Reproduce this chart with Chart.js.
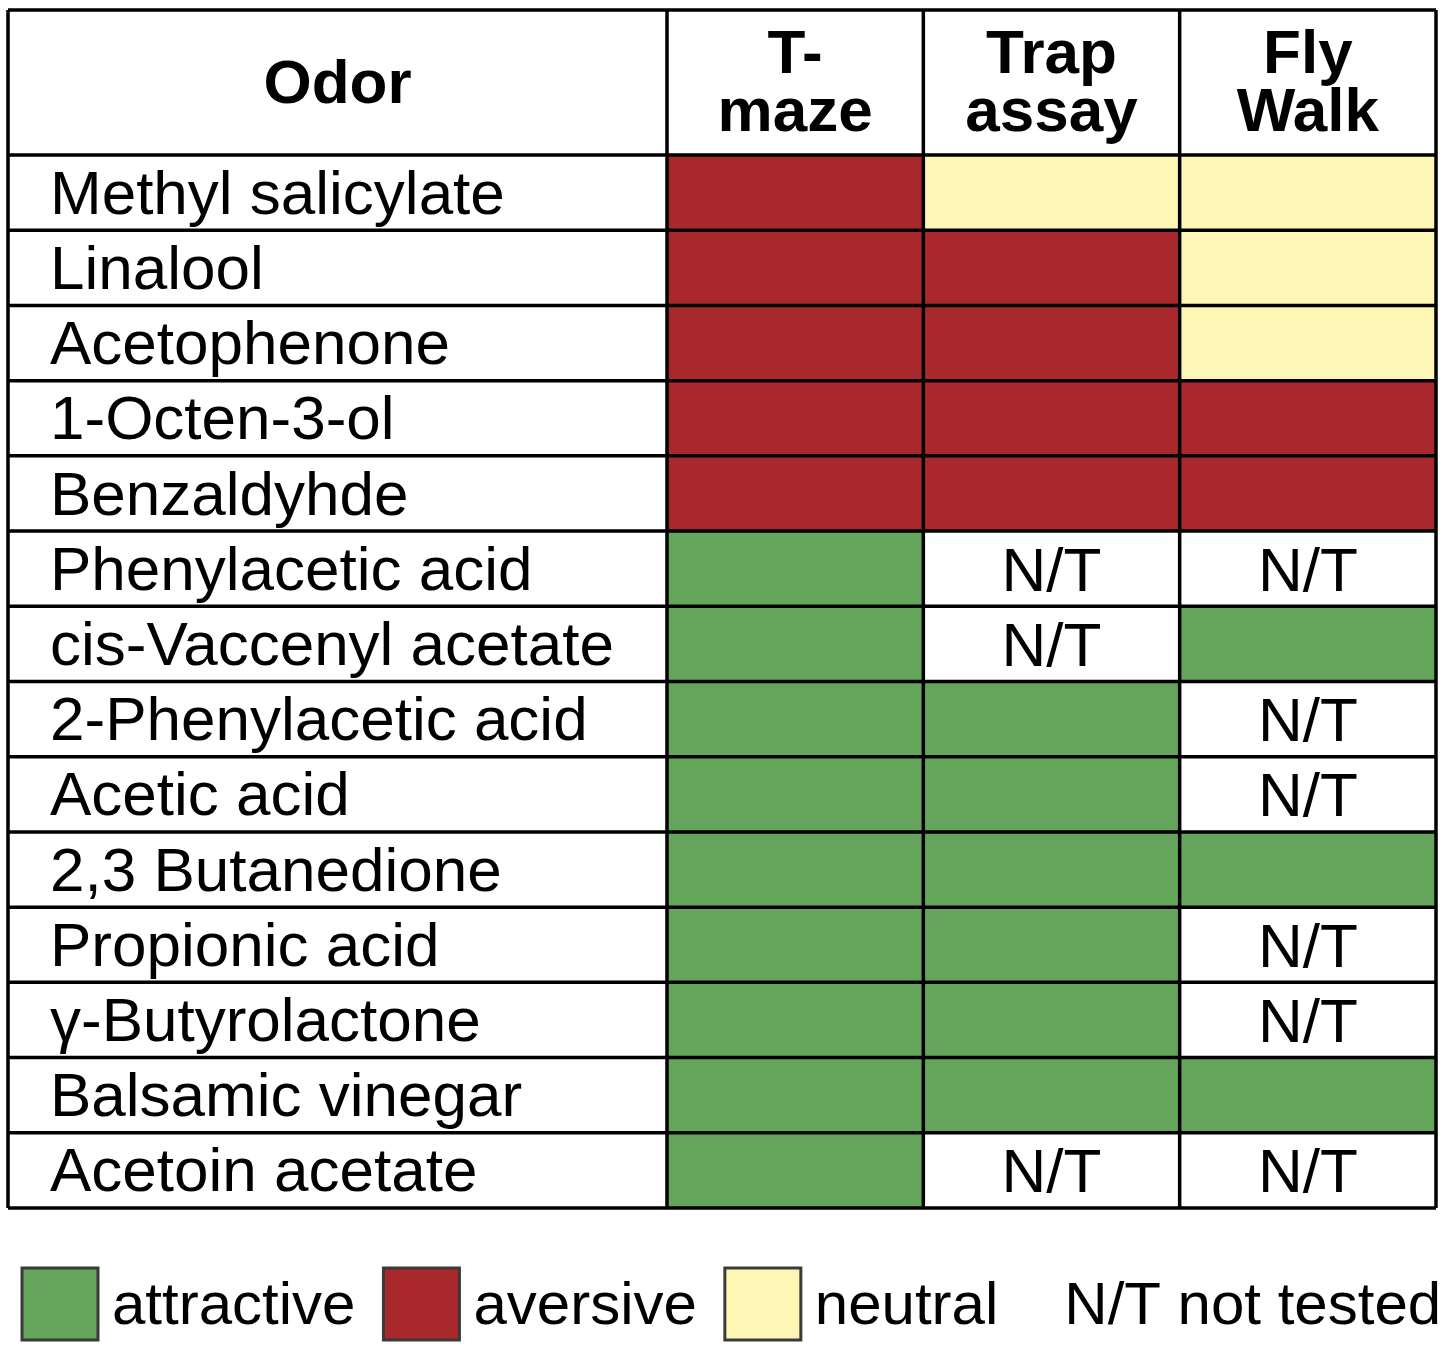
<!DOCTYPE html>
<html>
<head>
<meta charset="utf-8">
<script src="https://cdn.jsdelivr.net/npm/chart.js@4/dist/chart.umd.min.js"></script>
<style>
  html, body { margin: 0; padding: 0; background: #fff; }
  #wrap { width: 1445px; height: 1349px; }
</style>
</head>
<body>
<div id="wrap"><canvas id="myChart" width="1445" height="1349"></canvas></div>
<script>
//Rows of the table
const odors = [
  "Methyl salicylate", "Linalool", "Acetophenone", "1-Octen-3-ol", "Benzaldyhde",
  "Phenylacetic acid", "cis-Vaccenyl acetate", "2-Phenylacetic acid", "Acetic acid",
  "2,3 Butanedione", "Propionic acid", "γ-Butyrolactone", "Balsamic vinegar", "Acetoin acetate"
];
//Columns (header text split in two lines like the picture)
const assays = ["T-maze", "Trap assay", "Fly Walk"];
const assayHeaders = [["T-", "maze"], ["Trap", "assay"], ["Fly", "Walk"]];
//Result of each odor per assay, "N/T" = not tested
const tMaze = [
  "aversive", "aversive", "aversive", "aversive", "aversive",
  "attractive", "attractive", "attractive", "attractive",
  "attractive", "attractive", "attractive", "attractive", "attractive"
];
const trapAssay = [
  "neutral", "aversive", "aversive", "aversive", "aversive",
  "N/T", "N/T", "attractive", "attractive",
  "attractive", "attractive", "attractive", "attractive", "N/T"
];
const flyWalk = [
  "neutral", "neutral", "neutral", "aversive", "aversive",
  "N/T", "attractive", "N/T", "N/T",
  "attractive", "N/T", "N/T", "attractive", "N/T"
];
const legendLabels = ["attractive", "aversive", "neutral"];
const notTestedNote = "N/T not tested";

const responseColors = {
  attractive: "#64a45b",
  aversive: "#a9282b",
  neutral: "#fef6b4"
};
const FONT = "'Liberation Sans', Arial, sans-serif";

//one floating bar per tested cell, column i goes from i to i+1
function makeDataset(results, col) {
  return {
    label: assays[col],
    data: results.map(r => (r == "N/T" ? null : [col, col + 1])),
    backgroundColor: results.map(r => responseColors[r] || "#fff"),
    results: results,
    borderWidth: 0,
    barPercentage: 1,
    categoryPercentage: 1,
    grouped: false
  };
}

//Draws the table lines, "Odor" header, N/T cells and the legend
const tablePlugin = {
  id: "tablePlugin",
  afterDatasetsDraw(chart) {
    const ctx = chart.ctx;
    const x = chart.scales.x, y = chart.scales.y;
    const area = chart.chartArea;
    const tableLeft = y.left - 42; // labels sit a bit in from the border
    const tableTop = chart.scales.xHead.top;
    const half = (area.bottom - area.top) / odors.length / 2;

    //N/T text
    ctx.save();
    ctx.fillStyle = "#000";
    ctx.font = "62px " + FONT;
    ctx.textAlign = "center";
    ctx.textBaseline = "middle";
    chart.data.datasets.forEach((ds, col) => {
      ds.results.forEach((r, i) => {
        if (r == "N/T") {
          const cx = (x.getPixelForValue(col) + x.getPixelForValue(col + 1)) / 2;
          ctx.fillText("N/T", cx, y.getPixelForValue(i) + 5);
        }
      });
    });

    //Odor header
    ctx.font = "bold 62px " + FONT;
    ctx.fillText("Odor", (tableLeft + area.left) / 2, (tableTop + area.top) / 2 + 3);

    //lines
    ctx.strokeStyle = "#000";
    ctx.lineWidth = 3.5;
    ctx.beginPath();
    let rowLines = [tableTop];
    for (let i = 0; i < odors.length; i++) rowLines.push(y.getPixelForValue(i) - half);
    rowLines.push(area.bottom);
    rowLines.forEach(py => {
      ctx.moveTo(tableLeft, py);
      ctx.lineTo(area.right, py);
    });
    let colLines = [tableLeft];
    for (let c = 0; c <= assays.length; c++) colLines.push(x.getPixelForValue(c));
    colLines.forEach(px => {
      ctx.moveTo(px, tableTop);
      ctx.lineTo(px, area.bottom);
    });
    ctx.stroke();

    //legend
    const boxTop = area.bottom + 60, boxW = 76, boxH = 72;
    ctx.font = "60px " + FONT;
    ctx.textAlign = "left";
    let lx = tableLeft + 14;
    legendLabels.forEach(lab => {
      ctx.fillStyle = responseColors[lab];
      ctx.fillRect(lx, boxTop, boxW, boxH);
      ctx.strokeStyle = "#3a3a3a";
      ctx.lineWidth = 3;
      ctx.strokeRect(lx, boxTop, boxW, boxH);
      ctx.fillStyle = "#000";
      ctx.fillText(lab, lx + boxW + 14, boxTop + boxH / 2 + 3);
      lx += boxW + 14 + ctx.measureText(lab).width + 28;
    });
    ctx.fillText(notTestedNote, lx + 38, boxTop + boxH / 2 + 3);
    ctx.restore();
  }
};

let ctx = document.getElementById("myChart").getContext("2d");
let myChart = new Chart(ctx, {
  type: "bar",
  data: {
    labels: odors,
    datasets: [makeDataset(tMaze, 0), makeDataset(trapAssay, 1), makeDataset(flyWalk, 2)]
  },
  options: {
    indexAxis: "y",
    responsive: false,
    devicePixelRatio: 1,
    animation: false,
    layout: { padding: { left: 50, right: 9, top: 10, bottom: 141 } },
    plugins: { legend: { display: false }, tooltip: { enabled: false } },
    scales: {
      x: { type: "linear", min: 0, max: 3, display: false },
      xHead: {
        type: "category",
        position: "top",
        labels: assayHeaders,
        offset: true,
        grid: { display: false },
        border: { display: false },
        ticks: {
          autoSkip: false,
          maxRotation: 0,
          padding: 4,
          color: "#000",
          font: { family: FONT, size: 62, weight: "bold", lineHeight: 0.94 }
        },
        afterFit(scale) { scale.height = 145; }
      },
      y: {
        type: "category",
        offset: true,
        grid: { display: false },
        border: { display: false },
        ticks: {
          autoSkip: false,
          crossAlign: "far",
          labelOffset: 4,
          color: "#000",
          font: { family: FONT, size: 62 }
        },
        afterFit(scale) { scale.width = 617; }
      }
    }
  },
  plugins: [tablePlugin]
});
</script>
</body>
</html>
